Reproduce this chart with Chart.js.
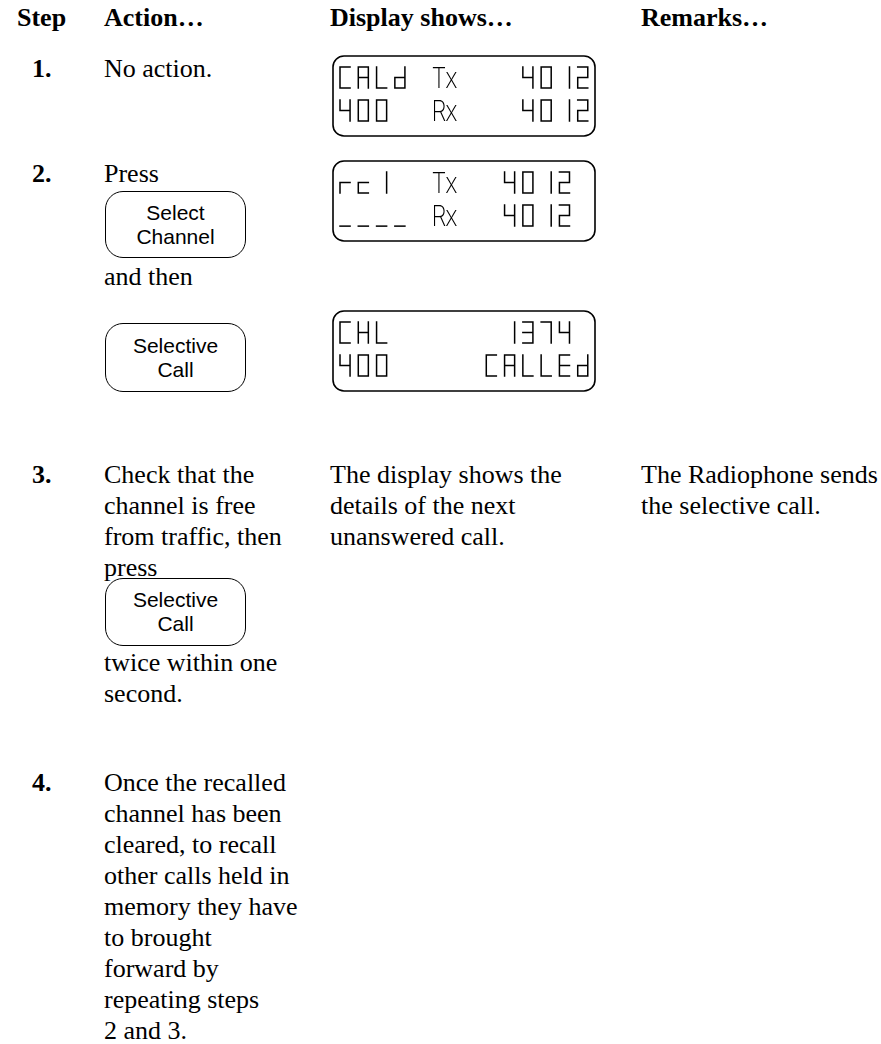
<!DOCTYPE html>
<html>
<head>
<meta charset="utf-8">
<script src="https://cdn.jsdelivr.net/npm/chart.js@4/dist/chart.umd.min.js"></script>
<style>
  html, body { margin: 0; padding: 0; background: #fff; }
  body {
    width: 881px; height: 1044px; position: relative; overflow: hidden;
    font-family: "Liberation Serif", "Times New Roman", serif;
    font-size: 26px; line-height: 31px; color: #000;
  }
  .t { position: absolute; white-space: nowrap; }
  .b { font-weight: bold; }
  .key {
    position: absolute; box-sizing: border-box;
    border: 1.5px solid #000; border-radius: 18px;
    display: flex; align-items: center; justify-content: center; text-align: center;
    font-family: "Liberation Sans", Arial, sans-serif; font-size: 21px; line-height: 24px;
  }
  canvas { position: absolute; }
</style>
</head>
<body>
<script>
// table text
const headers = ["Step", "Action…", "Display shows…", "Remarks…"];
const stepNums = ["1.", "2.", "3.", "4."];
const action1 = ["No action."];
const action2a = ["Press"];
const action2b = ["and then"];
const action3a = ["Check that the", "channel is free", "from traffic, then", "press"];
const action3b = ["twice within one", "second."];
const action4 = ["Once the recalled", "channel has been", "cleared, to recall", "other calls held in",
  "memory they have", "to brought", "forward by", "repeating steps", "2 and 3."];
const display3 = ["The display shows the", "details of the next", "unanswered call."];
const remarks3 = ["The Radiophone sends", "the selective call."];

// keys
const keySelectChannel = ["Select", "Channel"];
const keySelectiveCall = ["Selective", "Call"];

// LCD lines (one character per cell)
const lcdCalled = ["CALd Tx   4012", "400  Rx   4012"];
const lcdRecall = ["rcl  Tx  4012", "____ Rx  4012"];
const lcdChannel = ["CHL      1374", "400     CALLEd"];

// seven segment map
const SEG = {
  "0": "abcdef", "1": "bc", "2": "abged", "3": "abgcd", "4": "bcfg", "7": "abc",
  "A": "abcefg", "C": "adef", "E": "adefg", "H": "bcefg", "L": "def",
  "d": "bcdeg", "r": "eg", "c": "deg", "l": "bc", "_": "d"
};

const colX = [17, 104, 330, 641];
const stepX = 32;
const BASE = 24; // baseline offset inside a 31px line

function addText(lines, x, baseline, bold) {
  const d = document.createElement("div");
  d.className = "t" + (bold ? " b" : "");
  d.style.left = x + "px";
  d.style.top = (baseline - BASE) + "px";
  d.innerHTML = lines.join("<br>");
  document.body.appendChild(d);
}

function addKey(label, x, y, w, h) {
  const d = document.createElement("div");
  d.className = "key";
  Object.assign(d.style, { left: x + "px", top: y + "px", width: w + "px", height: h + "px" });
  d.innerHTML = label.join("<br>");
  document.body.appendChild(d);
}

function drawSeg(ctx, s, x0, y0, w, h) {
  const m = y0 + h / 2, r = x0 + w, b = y0 + h;
  const lines = {
    a: [x0, y0, r, y0], b: [r, y0, r, m], c: [r, m, r, b], d: [x0, b, r, b],
    e: [x0, m, x0, b], f: [x0, y0, x0, m], g: [x0, m, r, m]
  };
  ctx.beginPath();
  for (const k of s) {
    const l = lines[k];
    ctx.moveTo(l[0], l[1]);
    ctx.lineTo(l[2], l[3]);
  }
  ctx.stroke();
}

const lcdPlugin = {
  id: "lcd",
  beforeDraw(chart) {
    const ctx = chart.ctx;
    ctx.save();
    ctx.lineWidth = 1.6;
    ctx.strokeStyle = "#000";
    ctx.beginPath();
    ctx.roundRect(1, 1, chart.width - 2, chart.height - 2, 11);
    ctx.stroke();
    ctx.restore();
  },
  afterDraw(chart) {
    const ctx = chart.ctx;
    const xs = chart.scales.x, ys = chart.scales.y;
    const cw = xs.getPixelForValue(0.55) - xs.getPixelForValue(0);
    const chh = ys.getPixelForValue(0.64) - ys.getPixelForValue(0);
    const pts = chart.data.datasets[0].data;
    const meta = chart.getDatasetMeta(0);
    ctx.save();
    ctx.lineWidth = 1.5;
    ctx.lineCap = "square";
    ctx.strokeStyle = "#000";
    ctx.fillStyle = "#000";
    ctx.font = '200 28px Inter, "Open Sans", sans-serif';
    ctx.textBaseline = "alphabetic";
    let textEnd = null; // where the last plain letter ended (for Tx / Rx)
    meta.data.forEach((el, i) => {
      const p = pts[i], prev = pts[i - 1];
      if (SEG[p.ch]) {
        drawSeg(ctx, SEG[p.ch], el.x, el.y, cw, chh);
        textEnd = null;
        return;
      }
      const follows = textEnd !== null && prev && !SEG[prev.ch] && prev.y === p.y && prev.x === p.x - 1;
      const x0 = follows ? textEnd : el.x;
      ctx.save();
      ctx.translate(x0, el.y + chh);
      ctx.scale(0.85, 1);
      ctx.fillText(p.ch, 0, 0);
      ctx.restore();
      textEnd = x0 + ctx.measureText(p.ch).width * 0.85 - 1;
    });
    ctx.restore();
  }
};

function addLcd(lines, x, y, w, h) {
  const cv = document.createElement("canvas");
  cv.width = w; cv.height = h;
  cv.style.left = x + "px"; cv.style.top = y + "px";
  document.body.appendChild(cv);
  const pts = [];
  lines.forEach((line, r) => {
    [...line].forEach((ch, i) => { if (ch !== " ") pts.push({ x: i, y: r, ch: ch }); });
  });
  const padTop = 12, areaW = 14 * 18.3, areaH = 66;
  new Chart(cv, {
    type: "scatter",
    data: { datasets: [{ data: pts, pointRadius: 0, pointHoverRadius: 0 }] },
    options: {
      responsive: false,
      animation: false,
      events: [],
      layout: { padding: { left: 8, right: w - 8 - areaW, top: padTop, bottom: h - padTop - areaH } },
      plugins: { legend: { display: false }, tooltip: { enabled: false } },
      scales: {
        x: { type: "linear", min: 0, max: 14, display: false },
        y: { type: "linear", min: 0, max: 2, reverse: true, display: false }
      }
    },
    plugins: [lcdPlugin]
  });
}

// header
headers.forEach((h, i) => addText([h], colX[i], 26, true));

// step 1
addText([stepNums[0]], stepX, 77, true);
addText(action1, colX[1], 77);
addLcd(lcdCalled, 332, 55, 264, 82);

// step 2
addText([stepNums[1]], stepX, 182, true);
addText(action2a, colX[1], 182);
addKey(keySelectChannel, 105, 191, 141, 67);
addText(action2b, colX[1], 285);
addKey(keySelectiveCall, 105, 323, 141, 69);
addLcd(lcdRecall, 332, 160, 264, 82);
addLcd(lcdChannel, 332, 310, 264, 82);

// step 3
addText([stepNums[2]], stepX, 483, true);
addText(action3a, colX[1], 483);
addKey(keySelectiveCall, 105, 578, 141, 68);
addText(action3b, colX[1], 671);
addText(display3, colX[2], 483);
addText(remarks3, colX[3], 483);

// step 4
addText([stepNums[3]], stepX, 791, true);
addText(action4, colX[1], 791);
</script>
</body>
</html>
